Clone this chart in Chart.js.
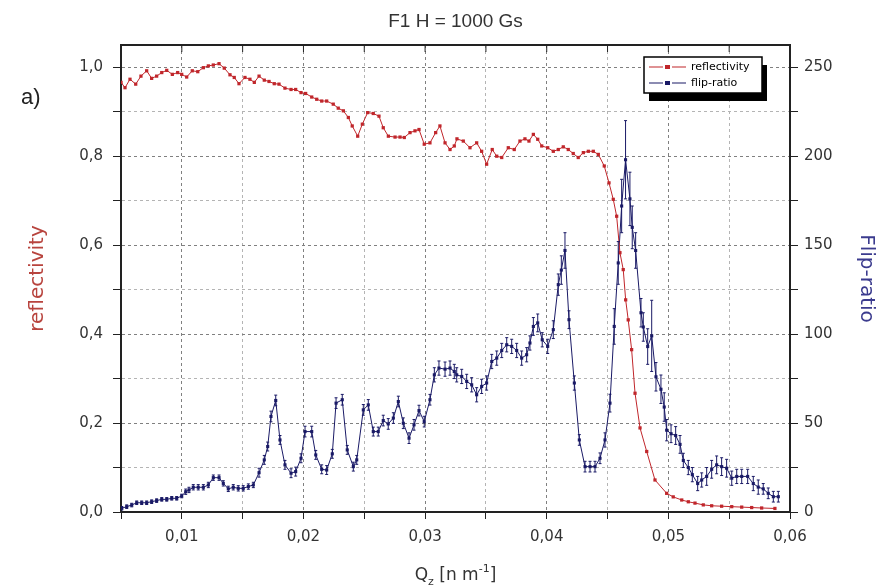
<!DOCTYPE html>
<html>
<head>
<meta charset="utf-8">
<title>F1 H = 1000 Gs</title>
<script src="https://cdn.jsdelivr.net/npm/chart.js@4.4.1/dist/chart.umd.min.js"></script>
<style>
  html, body { margin: 0; padding: 0; background: #fff; }
  #wrap { width: 879px; height: 587px; }
</style>
</head>
<body>
<div id="wrap"><canvas id="chart" width="879" height="587"></canvas></div>
<script>
// Reflectivity curve (left axis)
const qRefl = [
  0.00500, 0.00533, 0.00574, 0.00621, 0.00664, 0.00711, 0.00752, 0.00793, 0.00835, 0.00876,
  0.00922, 0.00966, 0.00999, 0.01040, 0.01086, 0.01131, 0.01177, 0.01218, 0.01259, 0.01306,
  0.01349, 0.01396, 0.01431, 0.01470, 0.01519, 0.01560, 0.01596, 0.01635, 0.01678, 0.01717,
  0.01760, 0.01799, 0.01848, 0.01898, 0.01936, 0.01980, 0.02018, 0.02068, 0.02109, 0.02150,
  0.02191, 0.02245, 0.02286, 0.02328, 0.02369, 0.02401, 0.02446, 0.02484, 0.02528, 0.02574,
  0.02621, 0.02656, 0.02698, 0.02753, 0.02794, 0.02829, 0.02876, 0.02917, 0.02950, 0.02993,
  0.03040, 0.03087, 0.03122, 0.03164, 0.03205, 0.03240, 0.03262, 0.03314, 0.03369, 0.03424,
  0.03465, 0.03506, 0.03552, 0.03589, 0.03630, 0.03684, 0.03733, 0.03780, 0.03821, 0.03854,
  0.03890, 0.03926, 0.03959, 0.04008, 0.04054, 0.04095, 0.04136, 0.04177, 0.04218, 0.04259,
  0.04301, 0.04342, 0.04383, 0.04424, 0.04473, 0.04512, 0.04547, 0.04575, 0.04602, 0.04629,
  0.04649, 0.04670, 0.04698, 0.04726, 0.04767, 0.04822, 0.04890, 0.04986, 0.05040, 0.05110,
  0.05164, 0.05219, 0.05287, 0.05356, 0.05438, 0.05521, 0.05603, 0.05685, 0.05767, 0.05876,
];
const reflectivity = [
  0.966, 0.954, 0.973, 0.962, 0.980, 0.992, 0.975, 0.980, 0.988, 0.993,
  0.984, 0.988, 0.984, 0.978, 0.992, 0.990, 0.999, 1.003, 1.005, 1.008,
  0.998, 0.983, 0.977, 0.963, 0.977, 0.973, 0.966, 0.980, 0.971, 0.968,
  0.963, 0.962, 0.953, 0.950, 0.950, 0.943, 0.941, 0.933, 0.928, 0.924,
  0.924, 0.917, 0.908, 0.902, 0.887, 0.868, 0.845, 0.872, 0.898, 0.896,
  0.890, 0.864, 0.845, 0.843, 0.843, 0.842, 0.853, 0.857, 0.860, 0.827,
  0.830, 0.853, 0.868, 0.830, 0.815, 0.823, 0.839, 0.834, 0.819, 0.830,
  0.811, 0.782, 0.815, 0.800, 0.797, 0.819, 0.815, 0.834, 0.839, 0.834,
  0.849, 0.838, 0.823, 0.819, 0.811, 0.815, 0.821, 0.815, 0.806, 0.797,
  0.808, 0.811, 0.811, 0.804, 0.778, 0.740, 0.703, 0.665, 0.583, 0.545,
  0.477, 0.432, 0.365, 0.267, 0.189, 0.136, 0.072, 0.042, 0.034, 0.027,
  0.023, 0.020, 0.016, 0.014, 0.013, 0.012, 0.011, 0.010, 0.009, 0.008,
];

// Flip-ratio curve (right axis)
const qFlip = [
  0.00506, 0.00547, 0.00588, 0.00629, 0.00670, 0.00711, 0.00752, 0.00793, 0.00835, 0.00876,
  0.00917, 0.00958, 0.00999, 0.01032, 0.01059, 0.01094, 0.01135, 0.01177, 0.01218, 0.01259,
  0.01306, 0.01341, 0.01382, 0.01423, 0.01464, 0.01505, 0.01547, 0.01588, 0.01635, 0.01678,
  0.01706, 0.01733, 0.01772, 0.01807, 0.01848, 0.01898, 0.01936, 0.01980, 0.02013, 0.02068,
  0.02101, 0.02150, 0.02191, 0.02237, 0.02268, 0.02319, 0.02360, 0.02410, 0.02438, 0.02492,
  0.02533, 0.02574, 0.02615, 0.02656, 0.02697, 0.02739, 0.02780, 0.02821, 0.02868, 0.02909,
  0.02950, 0.02993, 0.03040, 0.03076, 0.03114, 0.03164, 0.03205, 0.03240, 0.03260, 0.03301,
  0.03342, 0.03383, 0.03424, 0.03465, 0.03506, 0.03548, 0.03589, 0.03630, 0.03671, 0.03712,
  0.03753, 0.03794, 0.03835, 0.03862, 0.03890, 0.03926, 0.03963, 0.04008, 0.04054, 0.04095,
  0.04120, 0.04150, 0.04183, 0.04227, 0.04268, 0.04315, 0.04356, 0.04397, 0.04438, 0.04479,
  0.04520, 0.04555, 0.04588, 0.04616, 0.04648, 0.04684, 0.04703, 0.04731, 0.04775, 0.04794,
  0.04830, 0.04863, 0.04898, 0.04939, 0.04966, 0.04986, 0.05022, 0.05060, 0.05096, 0.05123,
  0.05164, 0.05197, 0.05241, 0.05274, 0.05315, 0.05356, 0.05397, 0.05438, 0.05479, 0.05521,
  0.05562, 0.05603, 0.05652, 0.05698, 0.05739, 0.05780, 0.05821, 0.05863, 0.05904,
];
const flipRatio = [
  2.1, 3.0, 3.9, 5.2, 5.2, 5.2, 5.8, 6.4, 7.1, 7.1,
  7.7, 7.7, 9.0, 11.4, 12.4, 13.9, 13.9, 13.9, 15.2, 19.3,
  19.3, 16.1, 13.0, 13.9, 13.3, 13.3, 14.3, 15.2, 22.1, 29.3,
  36.8, 53.7, 62.7, 40.5, 26.5, 21.8, 22.7, 30.2, 45.2, 45.2,
  32.1, 24.0, 23.6, 32.7, 61.2, 63.1, 34.9, 25.5, 29.3, 57.4,
  60.2, 45.2, 45.2, 51.4, 49.5, 52.8, 62.1, 49.9, 41.5, 49.0,
  57.0, 50.8, 63.1, 77.1, 80.9, 80.3, 80.9, 79.0, 77.1, 76.2,
  73.4, 71.5, 65.9, 70.6, 72.5, 84.6, 86.5, 90.8, 94.0, 93.1,
  90.8, 86.5, 88.4, 95.0, 104.3, 106.3, 96.8, 93.1, 102.5, 127.8,
  136.0, 147.0, 108.1, 72.5, 40.5, 25.5, 25.5, 25.5, 30.2, 40.5,
  61.2, 104.3, 140.0, 172.0, 198.0, 176.0, 160.0, 147.0, 112.0, 104.0,
  93.0, 99.0, 76.0, 69.0, 59.0, 46.0, 44.0, 43.0, 38.0, 29.0,
  25.0, 21.0, 16.0, 18.0, 20.0, 24.0, 26.5, 25.5, 24.6, 19.0,
  20.0, 20.0, 20.0, 16.0, 14.0, 13.0, 10.5, 8.6, 8.6,
];
const flipErr = [
  1, 1, 1, 1, 1, 1, 1, 1, 1, 1,
  1, 1, 1, 1.5, 1.5, 1.5, 1.5, 1.5, 1.5, 1.5,
  1.5, 1.5, 1.5, 1.5, 1.5, 1.5, 1.5, 1.5, 2.5, 2.5,
  2.5, 3, 3, 2.5, 2.5, 2.5, 2.5, 2.5, 3, 3,
  2.5, 2.5, 2.5, 2.5, 3, 3, 2.5, 2.5, 2.5, 3,
  3, 2.5, 2.5, 3, 3, 3, 3, 3, 3, 3,
  3, 3, 3, 4, 4, 4, 4, 4, 4, 4,
  4, 4, 4, 4, 4, 4, 4, 4, 4, 4,
  4, 4, 4, 4, 5, 5, 4, 4, 5, 6,
  8, 10, 5, 4, 3, 3, 3, 3, 3, 4,
  5, 10, 12, 15, 22, 15, 12, 10, 8, 8,
  10, 20, 8, 8, 8, 6, 5, 5, 5, 4,
  4, 4, 4, 4, 5, 5, 5, 5, 5, 4,
  4, 4, 4, 4, 4, 3, 3, 3, 3,
];

const reflColor = "#c0262b";
const flipColor = "#1a1a66";
const axisFont = "'DejaVu Sans', sans-serif";

// Build point lists from the arrays
const reflPoints = qRefl.map((q, i) => ({ x: q, y: reflectivity[i] }));
const flipPoints = qFlip.map((q, i) => ({ x: q, y: flipRatio[i] }));

// Error bars on the flip-ratio points
const errorBars = {
  id: "errorBars",
  afterDatasetsDraw(chart) {
    const { ctx, chartArea } = chart;
    const y1 = chart.scales.y1;
    const meta = chart.getDatasetMeta(1);
    ctx.save();
    ctx.beginPath();
    ctx.rect(chartArea.left, chartArea.top, chartArea.right - chartArea.left, chartArea.bottom - chartArea.top);
    ctx.clip();
    ctx.strokeStyle = flipColor;
    ctx.lineWidth = 1;
    meta.data.forEach((pt, i) => {
      const top = y1.getPixelForValue(flipRatio[i] + flipErr[i]);
      const bot = y1.getPixelForValue(flipRatio[i] - flipErr[i]);
      ctx.beginPath();
      ctx.moveTo(pt.x, top);
      ctx.lineTo(pt.x, bot);
      ctx.moveTo(pt.x - 1.5, top);
      ctx.lineTo(pt.x + 1.5, top);
      ctx.moveTo(pt.x - 1.5, bot);
      ctx.lineTo(pt.x + 1.5, bot);
      ctx.stroke();
    });
    ctx.restore();
  },
};

// Title, panel label, x-axis title with sub/superscript, top frame and legend
const decorations = {
  id: "decorations",
  afterDraw(chart) {
    const { ctx, chartArea } = chart;
    const x = chart.scales.x;
    const cx = (chartArea.left + chartArea.right) / 2;
    ctx.save();

    // top frame line with small ticks
    ctx.strokeStyle = "#222";
    ctx.lineWidth = 2;
    ctx.beginPath();
    ctx.moveTo(chartArea.left, chartArea.top);
    ctx.lineTo(chartArea.right, chartArea.top);
    ctx.stroke();
    ctx.lineWidth = 1;
    x.ticks.forEach((t) => {
      const px = x.getPixelForValue(t.value);
      ctx.beginPath();
      ctx.moveTo(px, chartArea.top);
      ctx.lineTo(px, chartArea.top + 7);
      ctx.stroke();
    });

    // title
    ctx.fillStyle = "#333";
    ctx.font = "19px 'Liberation Sans Narrow', 'Liberation Sans', sans-serif";
    ctx.textAlign = "center";
    ctx.textBaseline = "alphabetic";
    ctx.fillText("F1 H = 1000 Gs", cx, 27);

    // panel label
    ctx.font = "22px 'Liberation Sans', sans-serif";
    ctx.textAlign = "left";
    ctx.fillStyle = "#222";
    ctx.fillText("a)", 21, 104);

    // x-axis title: Q_z [nm^-1]
    const big = "17px " + axisFont;
    const small = "11px " + axisFont;
    const parts = [
      { t: "Q", f: big, dy: 0 },
      { t: "z", f: small, dy: 5 },
      { t: " [n m", f: big, dy: 0 },
      { t: "-1", f: small, dy: -8 },
      { t: "]", f: big, dy: 0 },
    ];
    let w = 0;
    parts.forEach((p) => { ctx.font = p.f; w += ctx.measureText(p.t).width; });
    let px = cx - w / 2;
    const base = 580;
    ctx.fillStyle = "#333";
    parts.forEach((p) => {
      ctx.font = p.f;
      ctx.fillText(p.t, px, base + p.dy);
      px += ctx.measureText(p.t).width;
    });

    // legend box with shadow
    const lx = 644, ly = 57, lw = 118, lh = 36;
    ctx.fillStyle = "#000";
    ctx.fillRect(lx + 5, ly + 8, lw, lh);
    ctx.fillStyle = "#fff";
    ctx.fillRect(lx, ly, lw, lh);
    ctx.strokeStyle = "#000";
    ctx.lineWidth = 1.5;
    ctx.strokeRect(lx, ly, lw, lh);
    const entries = [
      { label: chart.data.datasets[0].label, color: reflColor, y: ly + 10 },
      { label: chart.data.datasets[1].label, color: flipColor, y: ly + 26 },
    ];
    ctx.font = "11px " + axisFont;
    ctx.textBaseline = "middle";
    entries.forEach((e) => {
      ctx.strokeStyle = e.color;
      ctx.lineWidth = 1.2;
      ctx.beginPath();
      ctx.moveTo(lx + 5, e.y);
      ctx.lineTo(lx + 19, e.y);
      ctx.moveTo(lx + 28, e.y);
      ctx.lineTo(lx + 42, e.y);
      ctx.stroke();
      ctx.fillStyle = e.color;
      ctx.fillRect(lx + 21, e.y - 2, 5, 4);
      ctx.fillStyle = "#000";
      ctx.fillText(e.label, lx + 47, e.y);
    });
    ctx.restore();
  },
};

const gridColor = (major) => (major ? "#808080" : "#b4b4b4");

new Chart(document.getElementById("chart"), {
  type: "line",
  plugins: [errorBars, decorations],
  data: {
    datasets: [
      {
        label: "reflectivity",
        data: reflPoints,
        yAxisID: "y",
        borderColor: reflColor,
        backgroundColor: reflColor,
        borderWidth: 1,
        pointStyle: "rect",
        pointRadius: 2.3,
        pointBorderWidth: 0,
        tension: 0,
      },
      {
        label: "flip-ratio",
        data: flipPoints,
        yAxisID: "y1",
        borderColor: flipColor,
        backgroundColor: flipColor,
        borderWidth: 1,
        pointStyle: "rect",
        pointRadius: 2.2,
        pointBorderWidth: 0,
        tension: 0,
      },
    ],
  },
  options: {
    responsive: false,
    animation: false,
    devicePixelRatio: 1,
    layout: { padding: { top: 45, left: 0, right: 0, bottom: 0 } },
    plugins: {
      legend: { display: false },
      tooltip: { enabled: false },
      title: { display: false },
    },
    scales: {
      x: {
        type: "linear",
        min: 0.005,
        max: 0.06,
        afterFit: (s) => { s.height = 75; },
        ticks: {
          stepSize: 0.005,
          autoSkip: false,
          maxRotation: 0,
          includeBounds: false,
          padding: 9,
          color: "#333",
          font: { family: axisFont, size: 15 },
          callback: (v) => (Math.round(v * 1000) % 10 === 0 ? v.toFixed(2).replace(".", ",") : ""),
        },
        grid: {
          color: (c) => gridColor(c.tick && Math.round(c.tick.value * 1000) % 10 === 0),
          tickColor: "#222",
          tickLength: 7,
          lineWidth: 1,
        },
        border: { color: "#222", width: 2, dash: [3, 3] },
      },
      y: {
        position: "left",
        min: 0,
        max: 1.05,
        afterFit: (s) => { s.width = 121; },
        title: {
          display: true,
          text: "reflectivity",
          color: "#b8443e",
          font: { family: axisFont, size: 20 },
          padding: { top: 26, bottom: 0 },
        },
        ticks: {
          stepSize: 0.1,
          autoSkip: false,
          includeBounds: false,
          padding: 10,
          color: "#333",
          font: { family: axisFont, size: 15 },
          callback: (v) => (Math.round(v * 10) % 2 === 0 ? v.toFixed(1).replace(".", ",") : ""),
        },
        grid: {
          color: (c) => gridColor(c.tick && Math.round(c.tick.value * 10) % 2 === 0),
          tickColor: "#222",
          tickLength: 8,
          lineWidth: 1,
        },
        border: { color: "#222", width: 2, dash: [3, 3] },
      },
      y1: {
        position: "right",
        min: 0,
        max: 262.5,
        afterFit: (s) => { s.width = 89; },
        title: {
          display: true,
          text: "Flip-ratio",
          color: "#3b3b8e",
          font: { family: axisFont, size: 20 },
          padding: { top: 1, bottom: 0 },
        },
        ticks: {
          stepSize: 25,
          autoSkip: false,
          includeBounds: false,
          padding: 6,
          color: "#333",
          font: { family: axisFont, size: 15 },
          callback: (v) => (v % 50 === 0 ? String(v) : ""),
        },
        grid: {
          drawOnChartArea: false,
          tickColor: "#222",
          tickLength: 8,
        },
        border: { color: "#222", width: 2 },
      },
    },
  },
});
</script>
</body>
</html>
